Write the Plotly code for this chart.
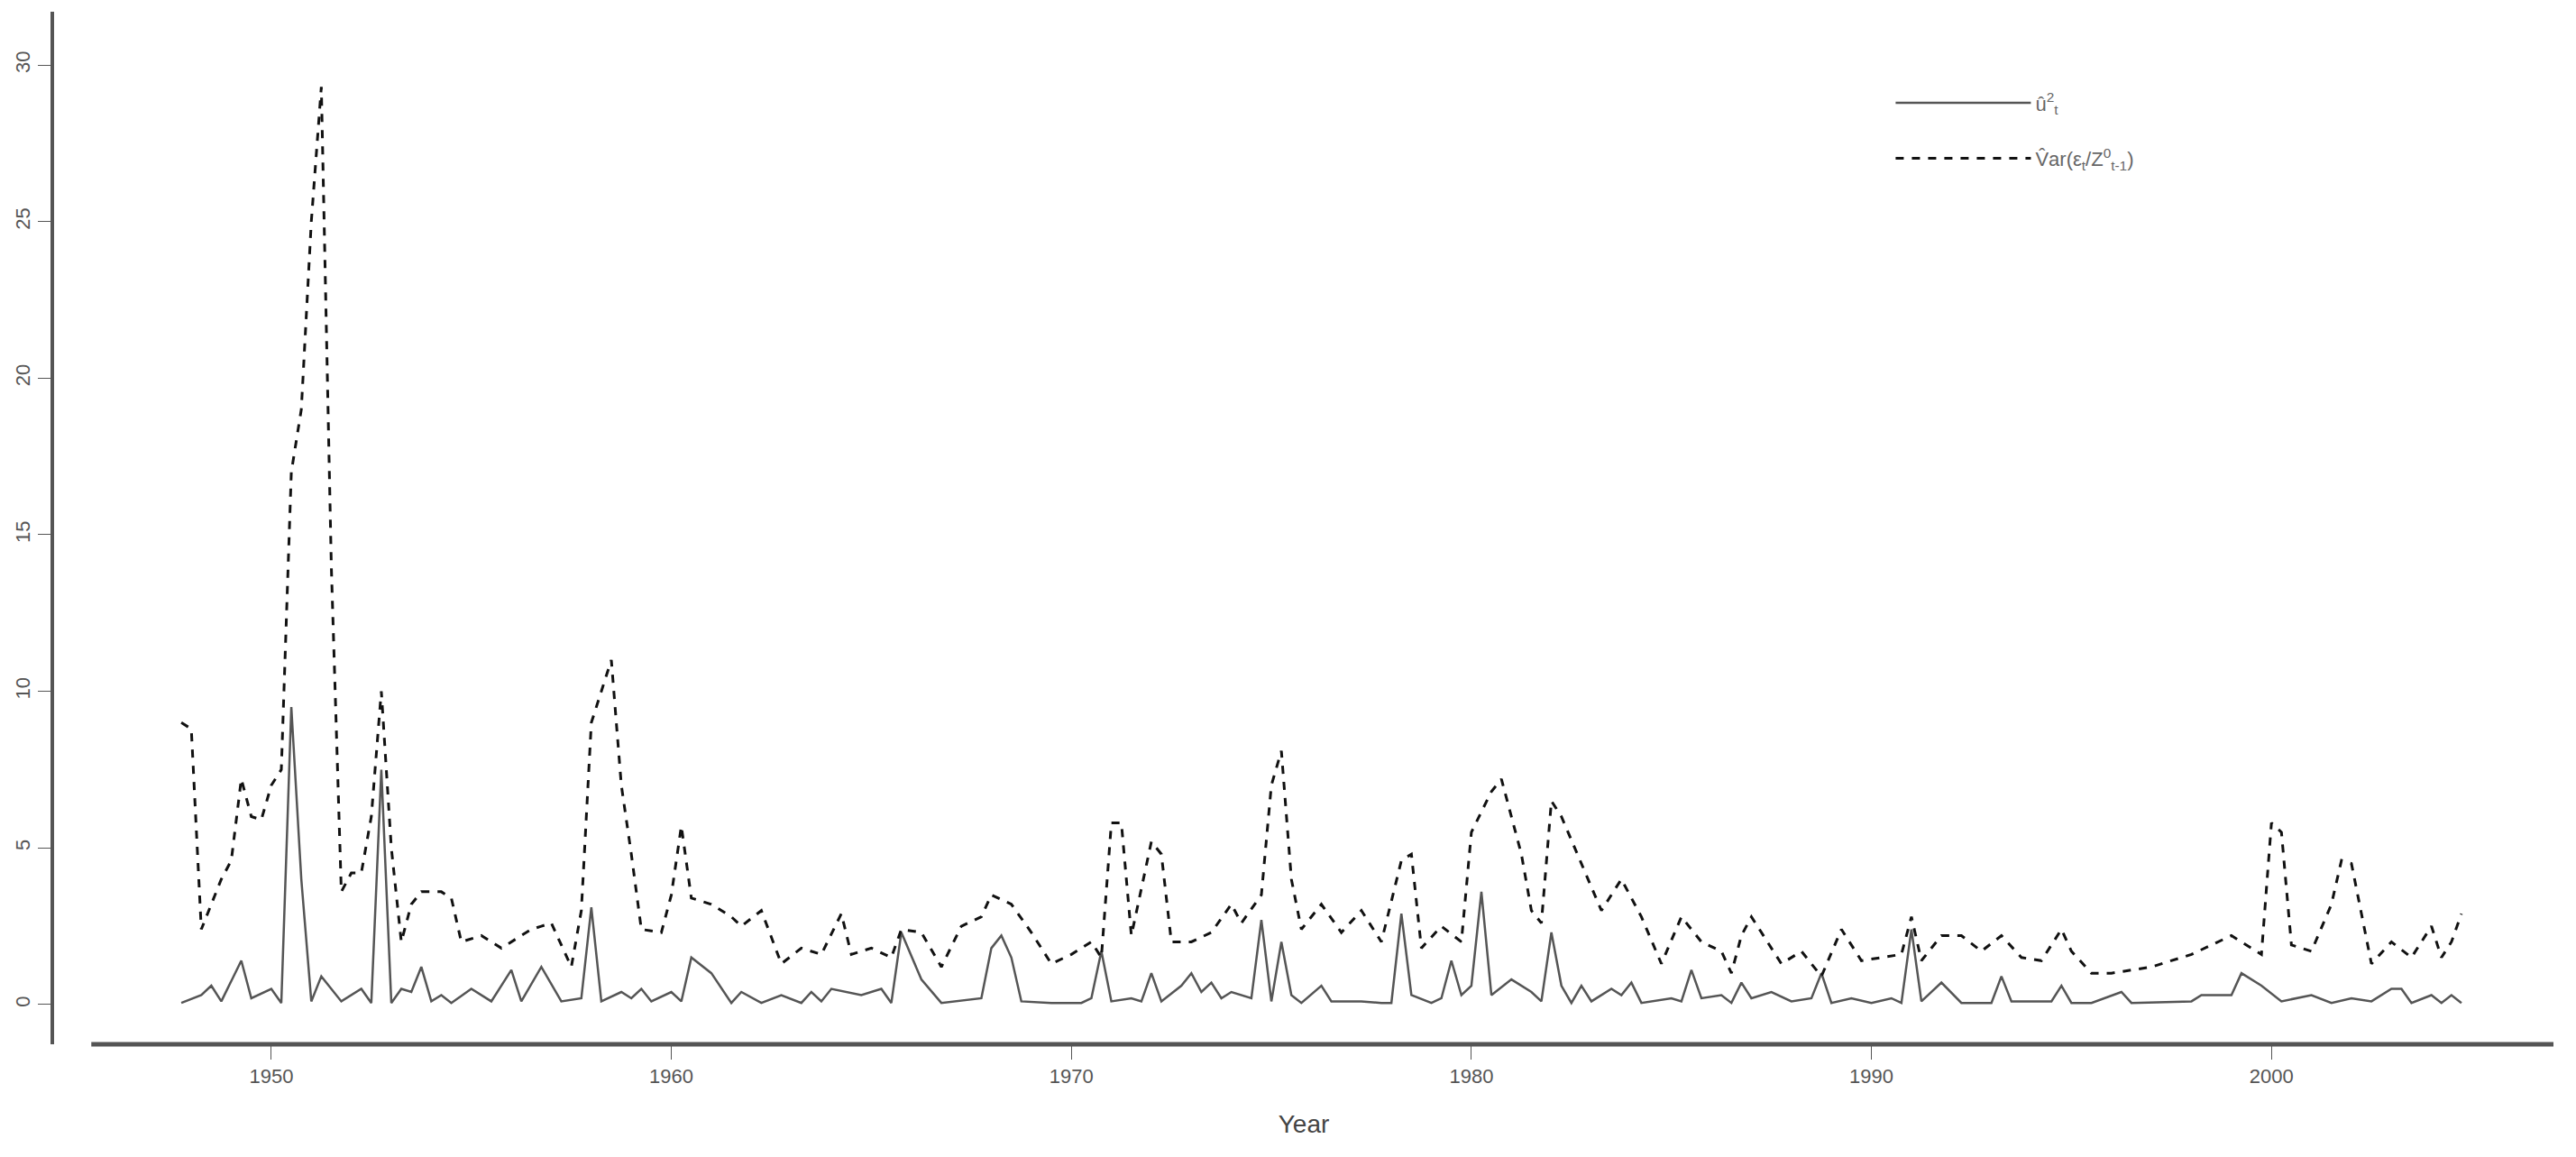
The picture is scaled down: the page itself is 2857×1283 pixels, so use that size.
import plotly.graph_objects as go

# dashed series: estimated conditional variance
var_year = [1947.75, 1948.0, 1948.25, 1948.5, 1948.75, 1949.0, 1949.25, 1949.5, 1949.75, 1950.0,
            1950.25, 1950.5, 1950.75, 1951.0, 1951.25, 1951.5, 1951.75, 1952.0, 1952.25, 1952.5,
            1952.75, 1953.0, 1953.25, 1953.5, 1953.75, 1954.25, 1954.5, 1954.75, 1955.25, 1955.75,
            1956.25, 1956.5, 1956.75, 1957.0, 1957.5, 1957.75, 1958.0, 1958.25, 1958.5, 1958.75,
            1959.0, 1959.25, 1959.75, 1960.0, 1960.25, 1960.5, 1961.0, 1961.5, 1961.75, 1962.25,
            1962.75, 1963.25, 1963.75, 1964.25, 1964.5, 1965.0, 1965.5, 1965.75, 1966.25, 1966.75,
            1967.25, 1967.75, 1968.0, 1968.5, 1969.0, 1969.5, 1970.0, 1970.5, 1970.75, 1971.0,
            1971.25, 1971.5, 1972.0, 1972.25, 1972.5, 1973.0, 1973.5, 1974.0, 1974.25, 1974.75,
            1975.0, 1975.25, 1975.5, 1975.75, 1976.25, 1976.75, 1977.25, 1977.75, 1978.25, 1978.5,
            1978.75, 1979.25, 1979.75, 1980.0, 1980.5, 1980.75, 1981.25, 1981.5, 1981.75, 1982.0,
            1982.25, 1982.75, 1983.25, 1983.75, 1984.25, 1984.75, 1985.25, 1985.75, 1986.25, 1986.5,
            1986.75, 1987.0, 1987.5, 1987.75, 1988.25, 1988.75, 1989.25, 1989.75, 1990.25, 1990.75,
            1991.0, 1991.25, 1991.75, 1992.25, 1992.75, 1993.25, 1993.75, 1994.25, 1994.75, 1995.0,
            1995.5, 1996.0, 1997.0, 1997.5, 1998.0, 1998.5, 1999.0, 1999.5, 1999.75, 2000.0,
            2000.25, 2000.5, 2001.0, 2001.5, 2001.75, 2002.0, 2002.5, 2003.0, 2003.5, 2004.0,
            2004.25, 2004.5, 2004.75]
var_val = [9.0, 8.8, 2.4, 3.2, 4.0, 4.6, 7.2, 6.0, 5.9, 7.0,
           7.5, 17.0, 19.0, 25.0, 29.3, 14.0, 3.6, 4.2, 4.2, 6.0,
           10.0, 5.0, 2.0, 3.2, 3.6, 3.6, 3.4, 2.0, 2.2, 1.8,
           2.2, 2.4, 2.5, 2.6, 1.2, 3.0, 9.0, 10.0, 11.0, 7.0,
           4.8, 2.4, 2.3, 3.5, 5.7, 3.4, 3.2, 2.8, 2.5, 3.0,
           1.3, 1.8, 1.6, 2.9, 1.6, 1.8, 1.5, 2.4, 2.3, 1.2,
           2.5, 2.8, 3.5, 3.2, 2.3, 1.3, 1.6, 2.0, 1.5, 5.8,
           5.8, 2.2, 5.2, 4.8, 2.0, 2.0, 2.3, 3.2, 2.6, 3.5,
           7.0, 8.1, 4.0, 2.4, 3.2, 2.3, 3.0, 2.0, 4.6, 4.8,
           1.8, 2.5, 2.0, 5.5, 6.8, 7.2, 4.8, 3.0, 2.6, 6.5,
           6.0, 4.5, 3.0, 4.0, 2.8, 1.3, 2.8, 2.0, 1.7, 1.0,
           2.2, 2.8, 1.8, 1.3, 1.7, 0.9, 2.4, 1.4, 1.5, 1.6,
           2.8, 1.4, 2.2, 2.2, 1.7, 2.2, 1.5, 1.4, 2.4, 1.7,
           1.0, 1.0, 1.2, 1.4, 1.6, 1.9, 2.2, 1.8, 1.6, 5.8,
           5.5, 1.9, 1.7, 3.2, 4.6, 4.5, 1.3, 2.0, 1.5, 2.5,
           1.5, 2.0, 2.9]

# solid series: squared residuals
u2_year = [1947.75, 1948.25, 1948.5, 1948.75, 1949.25, 1949.5, 1950.0, 1950.25, 1950.5, 1950.75,
           1951.0, 1951.25, 1951.75, 1952.25, 1952.5, 1952.75, 1953.0, 1953.25, 1953.5, 1953.75,
           1954.0, 1954.25, 1954.5, 1955.0, 1955.5, 1956.0, 1956.25, 1956.75, 1957.25, 1957.75,
           1958.0, 1958.25, 1958.75, 1959.0, 1959.25, 1959.5, 1960.0, 1960.25, 1960.5, 1961.0,
           1961.5, 1961.75, 1962.25, 1962.75, 1963.25, 1963.5, 1963.75, 1964.0, 1964.75, 1965.25,
           1965.5, 1965.75, 1966.25, 1966.75, 1967.75, 1968.0, 1968.25, 1968.5, 1968.75, 1969.5,
           1970.25, 1970.5, 1970.75, 1971.0, 1971.5, 1971.75, 1972.0, 1972.25, 1972.75, 1973.0,
           1973.25, 1973.5, 1973.75, 1974.0, 1974.5, 1974.75, 1975.0, 1975.25, 1975.5, 1975.75,
           1976.25, 1976.5, 1977.0, 1977.25, 1977.75, 1978.0, 1978.25, 1978.5, 1979.0, 1979.25,
           1979.5, 1979.75, 1980.0, 1980.25, 1980.5, 1981.0, 1981.5, 1981.75, 1982.0, 1982.25,
           1982.5, 1982.75, 1983.0, 1983.5, 1983.75, 1984.0, 1984.25, 1985.0, 1985.25, 1985.5,
           1985.75, 1986.25, 1986.5, 1986.75, 1987.0, 1987.5, 1988.0, 1988.5, 1988.75, 1989.0,
           1989.5, 1990.0, 1990.5, 1990.75, 1991.0, 1991.25, 1991.75, 1992.25, 1993.0, 1993.25,
           1993.5, 1994.5, 1994.75, 1995.0, 1995.5, 1996.25, 1996.5, 1998.0, 1998.25, 1999.0,
           1999.25, 1999.75, 2000.25, 2001.0, 2001.5, 2002.0, 2002.5, 2003.0, 2003.25, 2003.5,
           2004.0, 2004.25, 2004.5, 2004.75]
u2_val = [0.05, 0.3, 0.6, 0.1, 1.4, 0.2, 0.5, 0.05, 9.5, 4.0,
          0.1, 0.9, 0.1, 0.5, 0.05, 7.5, 0.05, 0.5, 0.4, 1.2,
          0.1, 0.3, 0.05, 0.5, 0.1, 1.1, 0.1, 1.2, 0.1, 0.2,
          3.1, 0.1, 0.4, 0.2, 0.5, 0.1, 0.4, 0.1, 1.5, 1.0,
          0.05, 0.4, 0.05, 0.3, 0.05, 0.4, 0.1, 0.5, 0.3, 0.5,
          0.05, 2.3, 0.8, 0.05, 0.2, 1.8, 2.2, 1.5, 0.1, 0.05,
          0.05, 0.2, 1.7, 0.1, 0.2, 0.1, 1.0, 0.1, 0.6, 1.0,
          0.4, 0.7, 0.2, 0.4, 0.2, 2.7, 0.1, 2.0, 0.3, 0.05,
          0.6, 0.1, 0.1, 0.1, 0.05, 0.05, 2.9, 0.3, 0.05, 0.2,
          1.4, 0.3, 0.6, 3.6, 0.3, 0.8, 0.4, 0.1, 2.3, 0.6,
          0.05, 0.6, 0.1, 0.5, 0.3, 0.7, 0.05, 0.2, 0.1, 1.1,
          0.2, 0.3, 0.05, 0.7, 0.2, 0.4, 0.1, 0.2, 1.0, 0.05,
          0.2, 0.05, 0.2, 0.05, 2.4, 0.1, 0.7, 0.05, 0.05, 0.9,
          0.1, 0.1, 0.6, 0.05, 0.05, 0.4, 0.05, 0.1, 0.3, 0.3,
          1.0, 0.6, 0.1, 0.3, 0.05, 0.2, 0.1, 0.5, 0.5, 0.05,
          0.3, 0.05, 0.3, 0.05]

x_ticks = [1950, 1960, 1970, 1980, 1990, 2000]
y_ticks = [0, 5, 10, 15, 20, 25, 30]

fig = go.Figure()
fig.add_trace(go.Scatter(x=u2_year, y=u2_val, mode="lines", name="û<sup>2</sup><sub>t</sub>",
                         legendgroup="a",
                         line=dict(color="#555555", width=2.5)))
fig.add_trace(go.Scatter(x=var_year, y=var_val, mode="lines",
                         name="V̂ar(ε<sub>t</sub>/Z<sup>0</sup><sub>t-1</sub>)",
                         legendgroup="b",
                         line=dict(color="#111111", width=3, dash="dash")))

# bottom axis line (R style, starts right of the y axis)
fig.add_shape(type="line", xref="x", yref="paper", x0=1945.5, x1=2007.05, y0=0, y1=0,
              line=dict(color="#555555", width=5))

fig.update_layout(
    width=2857, height=1283,
    margin=dict(l=40, r=33, t=5, b=133),
    plot_bgcolor="white", paper_bgcolor="white",
    font=dict(family="Liberation Sans, Arial", color="#555555", size=22),
    legend=dict(x=0.735, y=0.93, xanchor="left", yanchor="top", bgcolor="rgba(0,0,0,0)",
                font=dict(size=22, color="#666666"), tracegroupgap=30, itemwidth=150,
                entrywidth=300),
    showlegend=True,
)
fig.update_xaxes(range=[1944.57, 2007.05], tickvals=x_ticks, ticks="outside", ticklen=16,
                 tickcolor="#555555", showgrid=False, zeroline=False, showline=False,
                 title=dict(text="Year", font=dict(size=28, color="#444444"), standoff=30))
fig.update_yaxes(range=[-1.27, 31.7], tickvals=y_ticks, ticks="outside", ticklen=14,
                 tickcolor="#555555", tickangle=-90, showgrid=False, zeroline=False,
                 showline=True, linecolor="#555555", linewidth=4)

fig.write_html("out.html")
